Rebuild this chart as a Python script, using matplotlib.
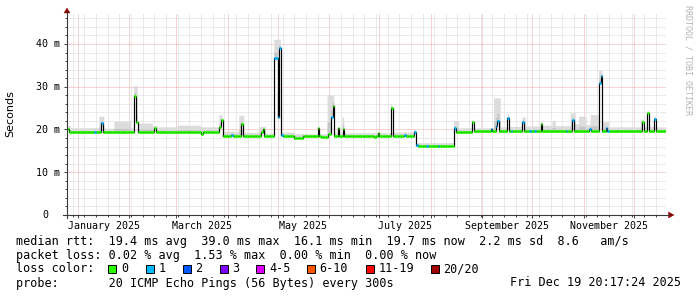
import matplotlib
matplotlib.use("Agg")
import matplotlib.pyplot as plt
import matplotlib.dates as mdates
import matplotlib.transforms as mtransforms
from matplotlib.patches import Polygon, Rectangle
from matplotlib.lines import Line2D
import numpy as np
import pandas as pd

W, H = 697, 297
DPI = 100

# ---------------- data ----------------
# median RTT base levels (ms), each valid from its start day until the next start
level_start = ["2024-12-25", "2024-12-27", "2025-03-29", "2025-05-11", "2025-05-16",
               "2025-05-27", "2025-05-31", "2025-07-23", "2025-08-16", "2025-08-27"]
level_value = [20.2, 19.4, 18.55, 18.1, 18.55, 18.3, 18.55, 16.2, 19.35, 19.6]

# individual days that deviate from the base level (ms) and their loss class
spike_date = ["2025-01-11", "2025-01-15", "2025-02-04", "2025-02-05", "2025-02-16", "2025-03-16",
              "2025-03-27", "2025-03-28", "2025-04-03", "2025-04-09", "2025-04-21", "2025-04-22",
              "2025-04-29", "2025-04-30", "2025-05-01", "2025-05-02", "2025-05-03", "2025-05-25",
              "2025-05-31", "2025-06-01", "2025-06-02", "2025-06-03", "2025-06-06", "2025-06-09",
              "2025-06-28", "2025-06-30", "2025-07-08", "2025-07-16", "2025-07-22", "2025-07-23",
              "2025-07-29", "2025-08-05", "2025-08-10",
              "2025-08-15", "2025-08-26", "2025-09-06", "2025-09-09", "2025-09-10", "2025-09-16",
              "2025-09-18",
              "2025-09-25", "2025-09-29", "2025-10-02", "2025-10-06", "2025-10-21", "2025-10-25",
              "2025-11-04",
              "2025-11-10", "2025-11-11", "2025-11-14", "2025-11-15", "2025-12-06", "2025-12-09",
              "2025-12-13"]
spike_value = [19.4, 21.6, 27.8, 21.8, 20.3, 18.9,
               20.5, 22.2, 18.8, 21.4, 19.5, 20.0,
               36.7, 36.7, 23.0, 39.0, 18.6, 20.4,
               18.9, 19.0, 23.0, 25.5, 20.4, 20.2,
               18.2, 19.1, 25.0, 18.6, 19.5, 16.3,
               16.2, 16.2, 16.1,
               20.3, 21.8, 20.1, 20.8, 22.1, 22.6,
               19.6,
               21.8, 19.6, 19.6, 21.2, 19.6, 22.2,
               20.2,
               30.8, 32.5, 20.4, 19.7, 21.8, 23.8,
               22.4]
spike_loss = [1, 1, 0, 0, 0, 0,
              0, 0, 1, 0, 0, 0,
              1, 1, 1, 1, 1, 0,
              0, 0, 1, 0, 0, 0,
              0, 0, 0, 1, 1, 1,
              1, 1, 0,
              1, 0, 1, 1, 1, 1,
              1,
              1, 1, 1, 0, 1, 1,
              1,
              1, 1, 1, 1, 0, 0,
              1]

# smoke (ping spread) upper envelope, each valid from its start until the next start
smoke_start = ["2024-12-25", "2024-12-28", "2025-01-14", "2025-01-17", "2025-01-23", "2025-02-02",
               "2025-02-04", "2025-02-06", "2025-02-15", "2025-02-18", "2025-03-02", "2025-03-16",
               "2025-03-27", "2025-03-29", "2025-04-08", "2025-04-11", "2025-04-20", "2025-04-24",
               "2025-04-29", "2025-05-03", "2025-05-11", "2025-05-31", "2025-06-04", "2025-06-09",
               "2025-06-10", "2025-07-08", "2025-07-09", "2025-07-22", "2025-07-23", "2025-08-15",
               "2025-08-18", "2025-09-08", "2025-09-12", "2025-09-16", "2025-09-17", "2025-09-25",
               "2025-09-27", "2025-10-06", "2025-10-07", "2025-10-13", "2025-10-15", "2025-10-24",
               "2025-10-27", "2025-10-29", "2025-11-02", "2025-11-05", "2025-11-10", "2025-11-12",
               "2025-11-16", "2025-12-05", "2025-12-07", "2025-12-09", "2025-12-10", "2025-12-13",
               "2025-12-14"]
smoke_top = [20.8, 20.3, 23.0, 20.2, 21.8, 20.4,
             30.2, 21.4, 20.8, 20.5, 20.9, 20.5,
             23.3, 19.5, 23.2, 19.2, 20.6, 19.0,
             41.0, 19.3, 18.9, 28.0, 19.2, 22.8,
             19.1, 25.8, 19.3, 20.0, 16.8, 22.0,
             20.3, 27.3, 20.5, 23.5, 20.6, 22.8,
             20.7, 21.8, 20.9, 22.0, 20.8, 23.8,
             21.2, 23.0, 21.0, 23.4, 33.8, 21.7,
             20.5, 22.3, 20.6, 24.3, 20.6, 23.0,
             20.5]

data_end = "2025-12-20"

loss_labels = ["0", "1", "2", "3", "4-5", "6-10", "11-19", "20/20"]
loss_colors = ["#26ff00", "#00b8ff", "#0059ff", "#7e00ff", "#dd00ff", "#ff5500", "#ff0000", "#a10000"]

stats_line1 = "median rtt:  19.4 ms avg  39.0 ms max  16.1 ms min  19.7 ms now  2.2 ms sd  8.6   am/s"
stats_line2 = "packet loss: 0.02 % avg  1.53 % max  0.00 % min  0.00 % now"
probe_line = "probe:       20 ICMP Echo Pings (56 Bytes) every 300s"
stamp = "Fri Dec 19 20:17:24 2025"

month_labels = ["January 2025", "March 2025", "May 2025", "July 2025", "September 2025", "November 2025"]
month_label_start = ["2025-01-01", "2025-03-01", "2025-05-01", "2025-07-01", "2025-09-01", "2025-11-01"]
month_label_end = ["2025-02-01", "2025-04-01", "2025-06-01", "2025-08-01", "2025-10-01", "2025-12-01"]

ytick_vals = [0, 10, 20, 30, 40]
ytick_labels = ["0", "10 m", "20 m", "30 m", "40 m"]

x_left = "2024-12-25 14:00"
x_right = "2025-12-20 04:00"
y_top = 47.25

# ---------------- build daily series ----------------
days = pd.date_range(level_start[0], data_end, freq="D")
edges = mdates.date2num(days.to_pydatetime())
ndays = len(days) - 1
day_idx = days[:-1]

lvl_s = pd.Series(level_value, index=pd.to_datetime(level_start))
med = lvl_s.reindex(day_idx, method="ffill").to_numpy().astype(float)
loss = np.zeros(ndays, dtype=int)
for d, v, l in zip(spike_date, spike_value, spike_loss):
    i = day_idx.get_loc(pd.Timestamp(d))
    med[i] = v
    loss[i] = l
sm_s = pd.Series(smoke_top, index=pd.to_datetime(smoke_start))
smoke = sm_s.reindex(day_idx, method="ffill").to_numpy().astype(float)
smoke = np.maximum(smoke, med)

# ---------------- figure ----------------
plt.rcParams["font.family"] = ["DejaVu Sans Mono"]
fig = plt.figure(figsize=(W / DPI, H / DPI), dpi=DPI)
fig.patch.set_facecolor("white")

ax_l, ax_r, ax_t, ax_b = 67, 666, 13, 215
ax = fig.add_axes([ax_l / W, 1 - ax_b / H, (ax_r - ax_l) / W, (ax_b - ax_t) / H])
ax.set_facecolor("white")
ax.set_xlim(mdates.date2num(pd.Timestamp(x_left)), mdates.date2num(pd.Timestamp(x_right)))
ax.set_ylim(0, y_top)

for s in ax.spines.values():
    s.set_visible(False)

ax.set_yticks(np.arange(0, 41, 10))
ax.set_yticks(np.arange(0, 47, 2), minor=True)
ax.xaxis.set_major_locator(mdates.MonthLocator())
ax.xaxis.set_minor_locator(mdates.WeekdayLocator(byweekday=mdates.SU))
ax.tick_params(which="both", labelbottom=False, labelleft=False, direction="out",
               color="#404040", width=0.7)
ax.tick_params(which="major", length=2.2)
ax.tick_params(which="minor", length=1.5)
ax.grid(which="minor", color="#d6d6d6", linestyle=(0, (1, 1)), linewidth=0.72)
ax.grid(which="major", color="#eeaaaa", linestyle=(0, (1, 1)), linewidth=0.72)
ax.set_axisbelow(True)

# smoke
ax.stairs(smoke, edges, baseline=med - 0.35, fill=True, color="#dcdcdc", linewidth=0, zorder=2)
inner = med + (smoke - med) * 0.3
ax.stairs(inner, edges, baseline=med - 0.2, fill=True, color="#c6c6c6", linewidth=0, zorder=2.1)

# median line (black outline) and loss-coloured segments
ax.stairs(med, edges, baseline=None, color="black", linewidth=0.85, zorder=3)
for k, col in enumerate(loss_colors):
    m = loss == k
    if m.any():
        ax.hlines(med[m], edges[:-1][m], edges[1:][m], colors=col, linewidth=2.1,
                  capstyle="butt", zorder=4)

# y tick labels
ylab_tr = mtransforms.blended_transform_factory(fig.transFigure, ax.transData)
for v, lab in zip(ytick_vals, ytick_labels):
    xr = 60 if lab.strip() != "0" else 48
    tr = mtransforms.offset_copy(ylab_tr, fig=fig, x=0, y=-3.5, units="dots")
    ax.text(xr / W, v, lab, transform=tr, ha="right", va="baseline", fontsize=7.2,
            color="black", clip_on=False)

# x month labels
xlab_tr = mtransforms.blended_transform_factory(ax.transData, ax.transAxes)
xlab_tr = mtransforms.offset_copy(xlab_tr, fig=fig, x=0, y=-14, units="dots")
for lab, a, b in zip(month_labels, month_label_start, month_label_end):
    mid = (mdates.date2num(pd.Timestamp(a)) + mdates.date2num(pd.Timestamp(b))) / 2
    ax.text(mid, 0, lab, transform=xlab_tr, ha="center", va="baseline", fontsize=7.2,
            clip_on=False)

# axes lines and arrows
def fx(x):
    return x / W

def fy(y):
    return 1 - y / H

axis_col = "#3a3a3a"
arrow_col = "#8b0000"
fig.add_artist(Line2D([fx(67), fx(67)], [fy(218), fy(12)], color=axis_col, linewidth=0.8))
fig.add_artist(Line2D([fx(63), fx(669)], [fy(215), fy(215)], color=axis_col, linewidth=0.8))
fig.add_artist(Polygon([[fx(67), fy(8)], [fx(64), fy(13)], [fx(70), fy(13)]], closed=True,
                       facecolor=arrow_col, edgecolor=arrow_col, linewidth=0.3))
fig.add_artist(Polygon([[fx(674), fy(215)], [fx(668.5), fy(212)], [fx(668.5), fy(218)]],
                       closed=True, facecolor=arrow_col, edgecolor=arrow_col, linewidth=0.3))

# y label and watermark
fig.text(fx(10.5), fy(114), "Seconds", rotation=90, ha="center", va="center",
         fontsize=8, family="DejaVu Sans")
fig.text(fx(688), fy(5), "RRDTOOL / TOBI OETIKER", rotation=270, ha="center", va="top",
         fontsize=6, color="#b4b4b4")

# legend / stats text
fs = 8.5
fig.text(fx(16), fy(244.5), stats_line1, ha="left", va="baseline", fontsize=fs)
fig.text(fx(16), fy(258.5), stats_line2, ha="left", va="baseline", fontsize=fs)
fig.text(fx(16), fy(272.5), "loss color:", ha="left", va="baseline", fontsize=fs)
fig.text(fx(16), fy(286.5), probe_line, ha="left", va="baseline", fontsize=fs)
fig.text(fx(681), fy(286.5), stamp, ha="right", va="baseline", fontsize=fs)

box_left = [108, 145.5, 182.5, 219.5, 256, 306.5, 365.5, 430.5]
for bx, lab, col in zip(box_left, loss_labels, loss_colors):
    fig.add_artist(Rectangle((fx(bx), fy(273)), 8 / W, 8 / H, facecolor=col,
                             edgecolor="black", linewidth=0.7))
    fig.text(fx(bx + 13), fy(272.5), lab, ha="left", va="baseline", fontsize=fs)

fig.savefig("out.png", dpi=DPI, facecolor="white")
